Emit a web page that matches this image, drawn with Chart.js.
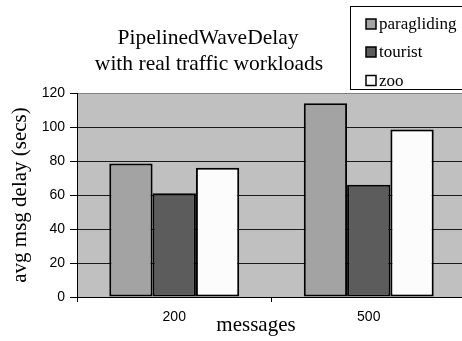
<!DOCTYPE html>
<html>
<head>
<meta charset="utf-8">
<script src="https://cdn.jsdelivr.net/npm/chart.js@4/dist/chart.umd.min.js"></script>
<style>
  html, body { margin: 0; padding: 0; background: #fff; overflow: hidden; }
  #wrap { position: absolute; left: 0; top: 0; width: 466px; height: 341px; }
</style>
</head>
<body>
<div id="wrap"><canvas id="chart" width="466" height="341"></canvas></div>
<script>
// data
const messages = ['200', '500'];
const paragliding = [78.5, 114];
const tourist = [61, 66];
const zoo = [76, 98.5];
const yTicks = [0, 20, 40, 60, 80, 100, 120];

const titleLines = ['PipelinedWaveDelay', 'with real traffic workloads'];
const serif = '"Liberation Serif", "Times New Roman", serif';
const sans = '"Liberation Sans", Arial, sans-serif';

// grey plot area behind the gridlines
const plotBackground = {
  id: 'plotBackground',
  beforeDraw(chart) {
    const { ctx, chartArea: a } = chart;
    ctx.save();
    ctx.fillStyle = '#c0c0c0';
    ctx.fillRect(a.left, a.top, a.right - a.left, a.bottom - a.top);
    ctx.restore();
  }
};

// title, x axis caption and boxed legend
const extras = {
  id: 'extras',
  afterDraw(chart) {
    const ctx = chart.ctx;
    ctx.save();
    ctx.fillStyle = '#000';
    ctx.textAlign = 'center';
    ctx.textBaseline = 'alphabetic';
    ctx.font = '21.5px ' + serif;
    ctx.fillText(titleLines[0], 208, 44);
    ctx.fillText(titleLines[1], 209, 70);

    ctx.font = '21px ' + serif;
    ctx.fillText('messages', 256, 331);

    // legend box
    ctx.lineWidth = 1;
    ctx.strokeStyle = '#000';
    ctx.strokeRect(350.5, 6.5, 130, 83);
    const rows = [24, 52, 80.5];
    ctx.textAlign = 'left';
    ctx.textBaseline = 'middle';
    ctx.font = '17px ' + serif;
    chart.data.datasets.forEach((ds, i) => {
      const y = rows[i];
      ctx.fillStyle = ds.backgroundColor;
      ctx.fillRect(366, y - 5, 10, 10);
      ctx.lineWidth = 1.5;
      ctx.strokeRect(366, y - 5, 10, 10);
      ctx.fillStyle = '#000';
      ctx.fillText(ds.label, 379, y + 1);
    });
    ctx.restore();
  }
};

new Chart(document.getElementById('chart'), {
  type: 'bar',
  data: {
    labels: messages,
    datasets: [
      { label: 'paragliding', data: paragliding, backgroundColor: '#a3a3a3' },
      { label: 'tourist', data: tourist, backgroundColor: '#5c5c5c' },
      { label: 'zoo', data: zoo, backgroundColor: '#fcfcfc' }
    ]
  },
  options: {
    responsive: false,
    animation: false,
    layout: { padding: { top: 93, left: 0, right: 0, bottom: 0 } },
    datasets: {
      bar: {
        borderColor: '#000',
        borderWidth: 2,
        borderSkipped: false,
        categoryPercentage: 0.668,
        barPercentage: 1
      }
    },
    plugins: {
      legend: { display: false },
      tooltip: { enabled: false }
    },
    scales: {
      x: {
        afterFit(scale) { scale.height = 44; },
        grid: { drawOnChartArea: false, color: '#000', tickLength: 5, offset: true },
        border: { color: '#000' },
        ticks: { color: '#000', font: { family: sans, size: 14 }, padding: 7 }
      },
      y: {
        min: 0,
        max: 120,
        afterFit(scale) { scale.width = 77; },
        afterBuildTicks(scale) { scale.ticks = yTicks.map(v => ({ value: v })); },
        grid: {
          color: ctx => (ctx.tick && ctx.tick.value === 120 ? '#808080' : '#1a1a1a'),
          tickColor: '#000',
          tickLength: 7
        },
        border: { color: '#000' },
        ticks: { color: '#000', font: { family: sans, size: 14 }, padding: 5 },
        title: {
          display: true,
          text: 'avg msg delay (secs)',
          color: '#000',
          font: { family: serif, size: 21 },
          padding: { top: 8, bottom: 0 }
        }
      }
    }
  },
  plugins: [plotBackground, extras]
});
</script>
</body>
</html>
